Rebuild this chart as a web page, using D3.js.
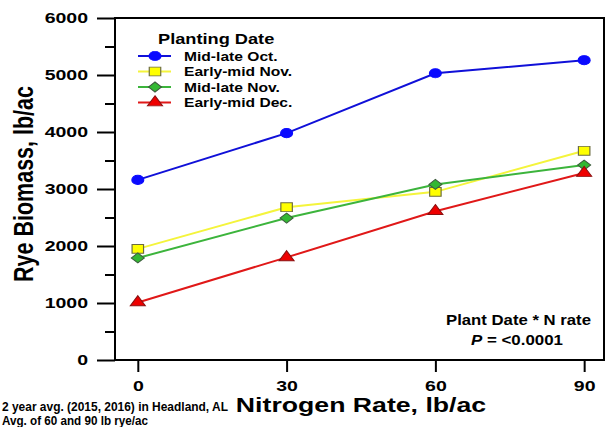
<!DOCTYPE html>
<html>
<head>
<meta charset="utf-8">
<script src="https://cdn.jsdelivr.net/npm/d3@7"></script>
<style>
  body { margin: 0; background: #fff; }
  svg text { font-family: "Liberation Sans", Arial, sans-serif; }
</style>
</head>
<body>
<div id="chart"></div>
<script>
// Data
var nRates    = [ 0, 30, 60, 90 ];
var dateNames = [ 'Mid-late Oct.', 'Early-mid Nov.', 'Mid-late Nov.', 'Early-mid Dec.' ];
var octVals   = [ 3160, 3980, 5030, 5260 ];
var earlyNov  = [ 1950, 2680, 2950, 3670 ];
var lateNov   = [ 1790, 2490, 3080, 3420 ];
var earlyDec  = [ 1010, 1800, 2610, 3280 ];
var yMajor    = [ 0, 1000, 2000, 3000, 4000, 5000, 6000 ];
var yMinor    = [ 500, 1500, 2500, 3500, 4500, 5500 ];

var series = [
    { name: dateNames[0], vals: octVals,  line: '#1010d8', fill: '#0a0aff', stroke: '#0a0aff', shape: 'circle' },
    { name: dateNames[1], vals: earlyNov, line: '#f4f43c', fill: '#ffff00', stroke: '#6b6b40', shape: 'square' },
    { name: dateNames[2], vals: lateNov,  line: '#3cb43c', fill: '#33b833', stroke: '#3d5a3d', shape: 'diamond' },
    { name: dateNames[3], vals: earlyDec, line: '#e01818', fill: '#ee0000', stroke: '#8a1010', shape: 'triangle' }
];

var W = 610, H = 427;
var stretchK = 1.3;   // the picture is stretched sideways

var svg = d3.select('#chart').append('svg')
            .attr('width', W)
            .attr('height', H);

var x = d3.scaleLinear().domain([ -4.6, 94.0 ]).range([ 115, 604 ]);
var y = d3.scaleLinear().domain([ 0, 6000 ]).range([ 360, 18 ]);

// widen a text element by a factor
var stretch = function (sel, k)
{
    sel.each(function () {
        var len = this.getComputedTextLength();
        d3.select(this).attr('textLength', len * k).attr('lengthAdjust', 'spacingAndGlyphs');
    });
};

var markerPath = function (shape)
{
    if (shape == 'circle')   return d3.symbol(d3.symbolCircle, 66)();
    if (shape == 'square')   return d3.symbol(d3.symbolSquare, 78)();
    if (shape == 'diamond')  return d3.symbol(d3.symbolSquare, 50)();
    return d3.symbol(d3.symbolTriangle, 58)();
};

var markerTransform = function (shape, px, py)
{
    var t = 'translate(' + px + ',' + py + ')scale(' + stretchK + ',1)';
    if (shape == 'diamond') t += 'rotate(45)';
    return t;
};

// frame
svg.append('rect')
   .attr('x', x.range()[0]).attr('y', y.range()[1])
   .attr('width', x.range()[1] - x.range()[0])
   .attr('height', y.range()[0] - y.range()[1])
   .attr('fill', 'none').attr('stroke', '#000').attr('stroke-width', 2);

// y axis
var yAx = svg.append('g')
             .attr('transform', 'translate(115,0)')
             .call(d3.axisLeft(y).tickValues(yMajor).tickSize(18).tickPadding(9).tickFormat(d3.format('d')));
svg.append('g')
   .attr('transform', 'translate(115,0)')
   .call(d3.axisLeft(y).tickValues(yMinor).tickSize(10).tickFormat(''))
   .select('.domain').remove();
yAx.select('.domain').remove();

// x axis
var xAx = svg.append('g')
             .attr('transform', 'translate(0,361)')
             .call(d3.axisBottom(x).tickValues(nRates).tickSize(11).tickPadding(8).tickFormat(d3.format('d')));
xAx.select('.domain').remove();

svg.selectAll('.tick line').attr('stroke', '#000').attr('stroke-width', 2);
svg.selectAll('.tick text')
   .attr('fill', '#000')
   .style('font-family', '"Liberation Sans", Arial, sans-serif')
   .style('font-size', '15px')
   .style('font-weight', 'bold')
   .call(stretch, stretchK);

// axis titles
svg.append('text')
   .attr('transform', 'translate(33,184)rotate(-90)scale(1,' + stretchK + ')')
   .attr('text-anchor', 'middle')
   .style('font-size', '21.5px').style('font-weight', 'bold')
   .text('Rye Biomass, lb/ac');

svg.append('text')
   .attr('x', 361).attr('y', 412)
   .attr('text-anchor', 'middle')
   .style('font-size', '20.5px').style('font-weight', 'bold')
   .text('Nitrogen Rate, lb/ac')
   .call(stretch, stretchK);

// series
var line = d3.line()
             .x(function (d, i) { return x(nRates[i]); })
             .y(function (d) { return y(d); });

series.forEach(function (s)
{
    svg.append('path')
       .datum(s.vals)
       .attr('d', line)
       .attr('fill', 'none')
       .attr('stroke', s.line)
       .attr('stroke-width', 2);

    svg.selectAll('.m_' + s.shape)
       .data(s.vals)
       .enter()
       .append('path')
       .attr('class', 'm_' + s.shape)
       .attr('d', markerPath(s.shape))
       .attr('transform', function (d, i) { return markerTransform(s.shape, x(nRates[i]), y(d)); })
       .attr('fill', s.fill)
       .attr('stroke', s.stroke)
       .attr('stroke-width', 0.9);
});

// legend
svg.append('text')
   .attr('x', 158).attr('y', 44)
   .style('font-size', '14px').style('font-weight', 'bold')
   .text('Planting Date')
   .call(stretch, stretchK);

var legRows = [ 56, 71.5, 87, 102.5 ];
series.forEach(function (s, i)
{
    var ly = legRows[i];
    svg.append('line')
       .attr('x1', 138).attr('x2', 171).attr('y1', ly).attr('y2', ly)
       .attr('stroke', s.line).attr('stroke-width', 2);
    svg.append('path')
       .attr('d', markerPath(s.shape))
       .attr('transform', markerTransform(s.shape, 155, ly))
       .attr('fill', s.fill).attr('stroke', s.stroke).attr('stroke-width', 0.9);
    svg.append('text')
       .attr('x', 184).attr('y', ly + 4.5)
       .style('font-size', '12px').style('font-weight', 'bold')
       .text(s.name)
       .call(stretch, stretchK);
});

// statistics note
svg.append('text')
   .attr('x', 446).attr('y', 325)
   .attr('textLength', 145).attr('lengthAdjust', 'spacingAndGlyphs')
   .style('font-size', '15.5px').style('font-weight', 'bold')
   .text('Plant Date * N rate');

var pText = svg.append('text')
               .attr('x', 471).attr('y', 345)
               .attr('textLength', 92).attr('lengthAdjust', 'spacingAndGlyphs')
               .style('font-size', '15.5px').style('font-weight', 'bold');
pText.append('tspan').style('font-style', 'italic').text('P');
pText.append('tspan').text(' = <0.0001');

// footnotes
svg.append('text')
   .attr('x', 2).attr('y', 411)
   .attr('textLength', 226).attr('lengthAdjust', 'spacingAndGlyphs')
   .style('font-size', '12px').style('font-weight', 'bold')
   .text('2 year avg. (2015, 2016) in Headland, AL');

svg.append('text')
   .attr('x', 2).attr('y', 425)
   .attr('textLength', 146).attr('lengthAdjust', 'spacingAndGlyphs')
   .style('font-size', '12px').style('font-weight', 'bold')
   .text('Avg. of 60 and 90 lb rye/ac');
</script>
</body>
</html>
